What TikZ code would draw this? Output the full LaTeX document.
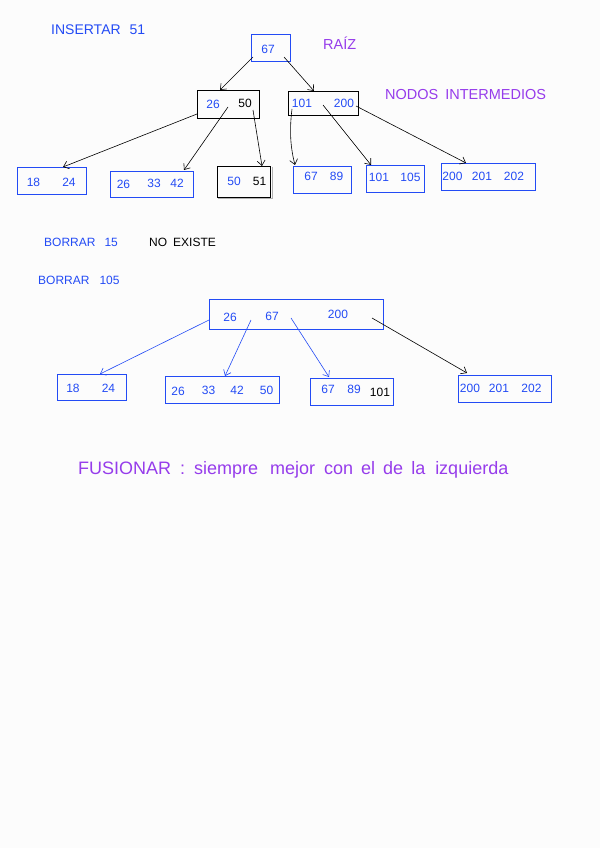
\documentclass[tikz,border=0pt]{standalone}
\usepackage{fontspec}
\setmainfont{Liberation Sans}
\usetikzlibrary{arrows.meta}
\definecolor{hblue}{RGB}{35,75,245}
\definecolor{hpurple}{RGB}{150,60,235}
\definecolor{paper}{RGB}{252,252,252}
\begin{document}
\begin{tikzpicture}[x=1pt,y=-1pt,
  kbox/.style={draw=hblue, line width=1pt, inner sep=0pt},
  kboxk/.style={draw=black, line width=0.8pt, inner sep=0pt},
  num/.style={text=hblue, font=\fontsize{12}{12}\selectfont, inner sep=0pt},
  numk/.style={num, text=black},
  lbl/.style={text=hblue, font=\fontsize{14}{14}\selectfont, inner sep=0pt, anchor=west},
  plbl/.style={lbl, text=hpurple},
  arr/.style={-{Straight Barb[length=5pt,width=8pt]}, line width=0.6pt},
  barr/.style={arr, draw=hblue}]
\fill[paper] (0,0) rectangle (600,848);
\useasboundingbox (0,0) rectangle (600,848);

% ---------- labels ----------
\node[lbl] (ins) at (51,30) {INSERTAR\hspace{9pt}51};
\node[plbl, font=\fontsize{14.5}{14.5}\selectfont] (raiz) at (323,43) {RAÍZ};
\node[plbl, font=\fontsize{14.5}{14.5}\selectfont] (inter) at (385,95) {NODOS\hspace{7pt}INTERMEDIOS};
\node[lbl, font=\fontsize{12}{12}\selectfont] (b15) at (44,242) {BORRAR\hspace{9pt}15};
\node[lbl, text=black, font=\fontsize{12}{12}\selectfont] (noex) at (149,242) {NO\hspace{6pt}EXISTE};
\node[lbl, font=\fontsize{12}{12}\selectfont] (b105) at (38,280) {BORRAR\hspace{10pt}105};
\node[plbl, font=\fontsize{18}{18}\selectfont] (fus) at (78,470) {FUSIONAR\hspace{9pt}:\hspace{9pt}siempre\hspace{7pt} mejor\hspace{4pt} con\hspace{3pt} el\hspace{3pt} de\hspace{3pt} la\hspace{5pt} izquierda};

% ---------- first tree: boxes ----------
\node[kbox, minimum width=39, minimum height=27] (root) at (270.5,48.5) {};
\node[kboxk, minimum width=62, minimum height=28] (A) at (228,104) {};
\node[kboxk, minimum width=70, minimum height=24] (B) at (323,103) {};
\node[kbox, minimum width=69, minimum height=27] (L1) at (51.5,180.5) {};
\node[kbox, minimum width=83, minimum height=26] (L2) at (151.5,184) {};
\draw[gray!60, line width=1pt] (218,198) -- (272,198) -- (272,167);
\node[kboxk, minimum width=53, minimum height=31] (L3) at (244,181.5) {};
\node[kbox, minimum width=58, minimum height=27] (L4) at (322,179.5) {};
\node[kbox, minimum width=58, minimum height=27] (L5) at (395,178.5) {};
\node[kbox, minimum width=94, minimum height=27] (L6) at (488,176.5) {};

% ---------- first tree: keys ----------
\node[num] (r67) at (268,49) {67};
\node[num] (a26) at (213,104) {26};
\node[numk] (a50) at (245,103) {50};
\node[num] (b101) at (302,103) {101};
\node[num] (b200) at (344,103) {200};
\node[num] (l118) at (33.5,182) {18};
\node[num] (l124) at (69,182) {24};
\node[num] (l226) at (123.5,184) {26};
\node[num] (l233) at (154,183) {33};
\node[num] (l242) at (177,183) {42};
\node[num] (l350) at (234,181) {50};
\node[numk] (l351) at (259.5,181) {51};
\node[num] (l467) at (311,176) {67};
\node[num] (l489) at (336.5,176) {89};
\node[num] (l5101) at (379,177) {101};
\node[num] (l5105) at (410.5,177) {105};
\node[num] (l6200) at (452.5,176) {200};
\node[num] (l6201) at (482,176) {201};
\node[num] (l6202) at (514,176) {202};

% ---------- first tree: arrows ----------
\draw[arr] ([shift={(-17.5,8.5)}]root.center) -- ([shift={(-8,-14)}]A.center);
\draw[arr] ([shift={(13.5,8.5)}]root.center) -- ([shift={(-9,-12)}]B.center);
\draw[arr] ([shift={(-31,10)}]A.center) -- ([shift={(11.5,-13.5)}]L1.center);
\draw[arr] ([shift={(0,3)}]A.center) -- ([shift={(32.5,-14)}]L2.center);
\draw[arr] ([shift={(25,6)}]A.center) -- ([shift={(18,-15.5)}]L3.center);
\draw[arr] ([shift={(-31,6)}]B.center) .. controls ([shift={(-34,30)}]B.center) and ([shift={(-31,-30)}]L4.center) .. ([shift={(-27,-14.5)}]L4.center);
\draw[arr] ([shift={(0,2)}]B.center) -- ([shift={(-24,-13.5)}]L5.center);
\draw[arr] ([shift={(33,3)}]B.center) -- ([shift={(-22,-13.5)}]L6.center);

% ---------- second tree: boxes ----------
\node[kbox, minimum width=174, minimum height=30] (big) at (296,314) {};
\node[kbox, minimum width=69, minimum height=26] (M1) at (91.5,387) {};
\node[kbox, minimum width=114, minimum height=27] (M2) at (222,389.5) {};
\node[kbox, minimum width=83, minimum height=27] (M3) at (351.5,391.5) {};
\node[kbox, minimum width=93, minimum height=27] (M4) at (504.5,388.5) {};

% ---------- second tree: keys ----------
\node[num] (g26) at (230,317) {26};
\node[num] (g67) at (272,316) {67};
\node[num] (g200) at (338,314) {200};
\node[num] (m118) at (73,388) {18};
\node[num] (m124) at (108.5,388) {24};
\node[num] (m226) at (178,391) {26};
\node[num] (m233) at (208.5,390) {33};
\node[num] (m242) at (237,390) {42};
\node[num] (m250) at (266.5,390) {50};
\node[num] (m367) at (328,389) {67};
\node[num] (m389) at (354,389) {89};
\node[numk] (m3101) at (380,392) {101};
\node[num] (m4200) at (470,388) {200};
\node[num] (m4201) at (499,388) {201};
\node[num] (m4202) at (531.5,388) {202};

% ---------- second tree: arrows ----------
\draw[barr] ([shift={(-87,6)}]big.center) -- ([shift={(8.5,-13)}]M1.center);
\draw[barr] ([shift={(-45,6)}]big.center) -- ([shift={(3,-13.5)}]M2.center);
\draw[barr] ([shift={(-5,4)}]big.center) -- ([shift={(-22.5,-14.5)}]M3.center);
\draw[arr] ([shift={(76,4)}]big.center) -- ([shift={(-37.5,-15.5)}]M4.center);
\end{tikzpicture}
\end{document}
